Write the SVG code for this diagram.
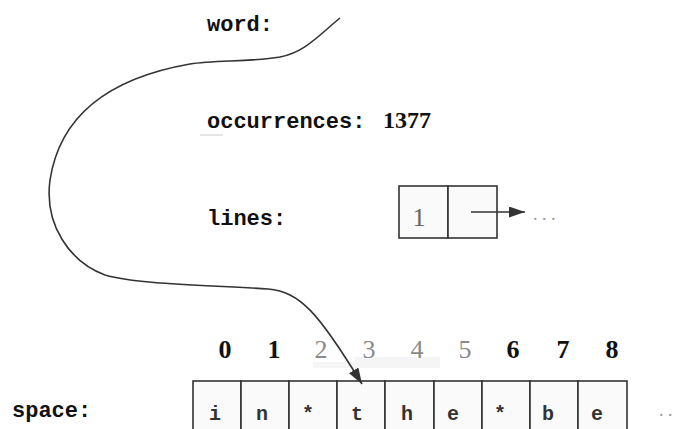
<svg xmlns="http://www.w3.org/2000/svg" width="686" height="429" viewBox="0 0 686 429">
<style>
.tt{font-family:"Liberation Mono","DejaVu Sans Mono",monospace;font-weight:bold;font-size:22px;fill:#111}
.num{font-family:"Liberation Serif","DejaVu Serif",serif;font-size:24px;fill:#111;font-weight:bold}
.idx{font-family:"Liberation Serif","DejaVu Serif",serif;font-size:26px;text-anchor:middle;fill:#111;font-weight:bold}
.idxg{fill:#8a8a8a;font-weight:normal}
.cell{fill:#fafafa;stroke:#333;stroke-width:1.6}
.ch{font-family:"Liberation Mono","DejaVu Sans Mono",monospace;font-size:20px;text-anchor:middle;fill:#333;font-weight:bold}
.dots{font-family:"Liberation Serif","DejaVu Serif",serif;font-size:18px;fill:#999}
.wire{fill:none;stroke:#333;stroke-width:1.6}
</style>
<defs>
<marker id="ah2" viewBox="0 0 10 10" refX="10" refY="5" markerWidth="16" markerHeight="11" markerUnits="userSpaceOnUse" orient="auto" preserveAspectRatio="none">
<path d="M0,0 L10,5 L0,10 z" fill="#333"/>
</marker>
</defs>
<rect width="686" height="429" fill="#fff"/>
<g id="labels">
<text class="tt" x="207" y="31">word:</text>
<text class="tt" x="207" y="128">occurrences:</text>
<text class="num" x="383" y="128">1377</text>
<line x1="200" y1="135" x2="223" y2="135" stroke="#ccc" stroke-width="1"/>
<text class="tt" x="207" y="225">lines:</text>
<text class="tt" x="12" y="417">space:</text>
</g>
<g id="lines-node">
<rect class="cell" x="399" y="186" width="49" height="52"/>
<rect class="cell" x="448" y="186" width="49" height="52"/>
<text x="419" y="226" font-family="Liberation Serif, DejaVu Serif, serif" font-size="26" fill="#666" text-anchor="middle">1</text>
<text class="dots" x="533" y="220">. . .</text>
</g>
<g id="space-array">
<path d="M313,368 L313,362 L355,362 L355,357 L440,357 L440,368 Z" fill="#f5f5f5"/>
<text class="idx" x="225" y="358">0</text>
<text class="idx" x="274" y="358">1</text>
<text class="idx idxg" x="321" y="358">2</text>
<text class="idx idxg" x="369" y="358">3</text>
<text class="idx idxg" x="417" y="358">4</text>
<text class="idx idxg" x="465" y="358">5</text>
<text class="idx" x="513" y="358">6</text>
<text class="idx" x="563" y="358">7</text>
<text class="idx" x="612" y="358">8</text>
<rect class="cell" x="193" y="381" width="48" height="60"/>
<rect class="cell" x="241" y="381" width="48" height="60"/>
<rect class="cell" x="289" y="381" width="48" height="60"/>
<rect class="cell" x="337" y="381" width="48" height="60"/>
<rect class="cell" x="385" y="381" width="49" height="60"/>
<rect class="cell" x="434" y="381" width="48" height="60"/>
<rect class="cell" x="482" y="381" width="48" height="60"/>
<rect class="cell" x="530" y="381" width="48" height="60"/>
<rect class="cell" x="578" y="381" width="49" height="60"/>
<text class="ch" x="215" y="420">i</text>
<text class="ch" x="262" y="420">n</text>
<text class="ch" x="308" y="420">*</text>
<text class="ch" x="357" y="420">t</text>
<text class="ch" x="407" y="420">h</text>
<text class="ch" x="453" y="420">e</text>
<text class="ch" x="500" y="420">*</text>
<text class="ch" x="548" y="420">b</text>
<text class="ch" x="597" y="420">e</text>
<text class="dots" x="659" y="416">. .</text>
</g>
<g id="connectors">
<path class="wire" marker-end="url(#ah2)" d="M340,18 C318,36 305,52 280,57 C250,62 215,60 190,64 C110,78 60,115 50,180 C44,225 70,262 105,275 C140,285 210,285 268,289 C300,292 318,312 362,384"/>
<line class="wire" x1="471" y1="212" x2="525" y2="212" marker-end="url(#ah2)"/>
</g>
</svg>
